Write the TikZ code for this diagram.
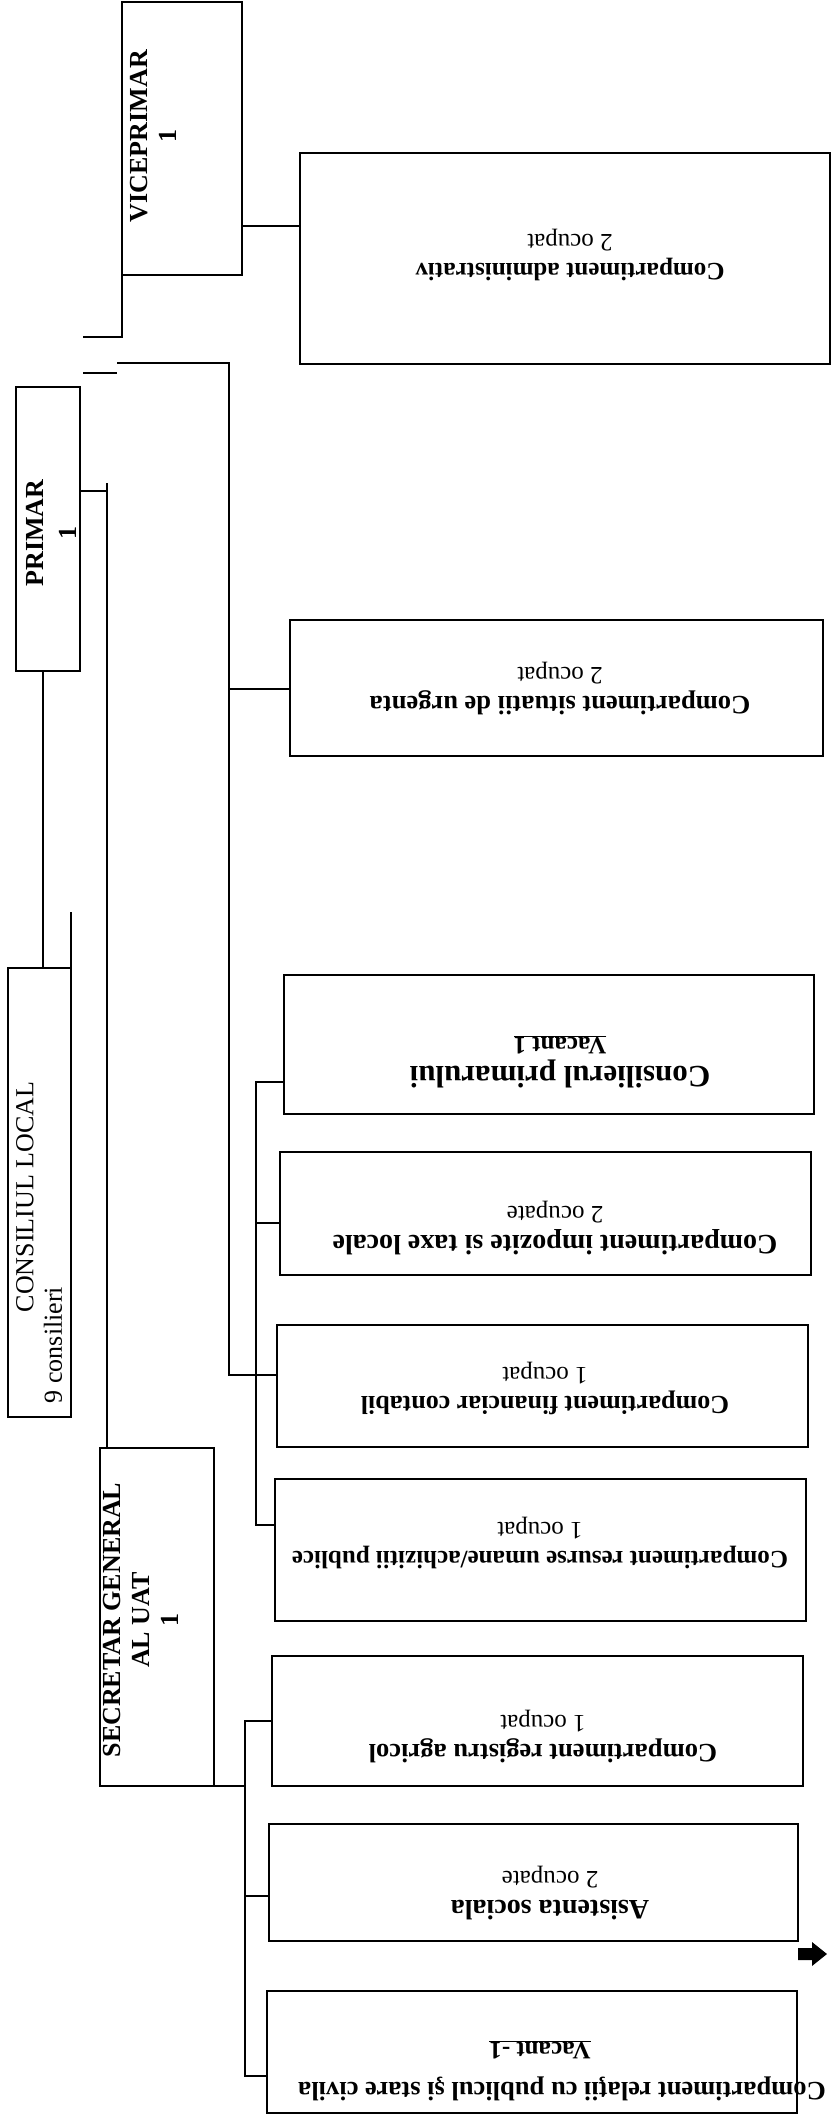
\documentclass[tikz,border=0pt]{standalone}
\usepackage{fontspec}
\setmainfont{Liberation Serif}
\newcommand\mybox[5]{\node[box, minimum width={#4-#2}, minimum height={#5-#3}] (#1) at ({(#2+#4)/2},{(#3+#5)/2}) {};}
\begin{document}
\begin{tikzpicture}[x=1pt,y=-1pt,
  box/.style={draw, line width=1.1pt, inner sep=0pt, outer sep=0pt},
  lbl/.style={font=\fontsize{25}{29}\selectfont, align=center, inner sep=0pt},
  lbl26/.style={font=\fontsize{26}{29}\selectfont, align=center, inner sep=0pt},
  conn/.style={line width=1.1pt}]
\useasboundingbox (0,0) rectangle (832,2116);
% boxes
\mybox{vice}{122}{2}{242}{275}
\mybox{primar}{16}{387}{80}{671}
\mybox{cons}{8}{968}{71}{1417}
\mybox{secr}{100}{1448}{214}{1786}
\mybox{admin}{300}{153}{830}{364}
\mybox{urg}{290}{620}{823}{756}
\mybox{consil}{284}{975}{814}{1114}
\mybox{impoz}{280}{1152}{811}{1275}
\mybox{fin}{277}{1325}{808}{1447}
\mybox{res}{275}{1479}{806}{1621}
\mybox{reg}{272}{1656}{803}{1786}
\mybox{asis}{269}{1824}{798}{1941}
\mybox{rel}{267}{1991}{797}{2113}
% left texts
\node[lbl26, rotate=90] (tvice) at (153,136) {\textbf{VICEPRIMAR}\\\textbf{1}};
\node[lbl26, rotate=90] (tprim) at (51,533) {\textbf{PRIMAR}\\[4pt]\textbf{1}};
\node[lbl26, rotate=90] (tcons1) at (25,1197) {CONSILIUL LOCAL};
\node[lbl26, rotate=90] (tcons2) at (53,1345) {9 consilieri};
\node[lbl26, rotate=90] (tsecr) at (141,1620) {\textbf{SECRETAR GENERAL}\\\textbf{AL UAT}\\\textbf{1}};
% right texts
\node[lbl, rotate=180] (tadmin) at (570,255) {\textbf{Compartiment administrativ}\\2 ocupat};
\node[lbl, rotate=180] (turg) at (560,689) {\textbf{\fontsize{26.5}{29}\selectfont Compartiment situatii de urgenta}\\2 ocupat};
\node[lbl, rotate=180] (tconsil) at (560,1062) {\textbf{\fontsize{31}{30}\selectfont Consilierul primarului}\\\underline{\textbf{Vacant 1}}};
\node[lbl, rotate=180] (timpoz) at (555,1228) {\textbf{\fontsize{28}{29}\selectfont Compartiment impozite si taxe locale}\\2 ocupate};
\node[lbl, rotate=180] (tfin) at (545,1388) {\textbf{\fontsize{26}{29}\selectfont Compartiment financiar contabil}\\1 ocupat};
\node[lbl, rotate=180] (tres) at (540,1543) {\textbf{Compartiment resurse umane/achizitii publice}\\1 ocupat};
\node[lbl, rotate=180] (treg) at (543,1737) {\textbf{\fontsize{26.5}{29}\selectfont Compartiment registru agricol}\\1 ocupat};
\node[lbl, rotate=180] (tasis) at (550,1893) {\textbf{\fontsize{28}{29}\selectfont Asistenta sociala}\\2 ocupate};
\node[lbl, rotate=180] (trel1) at (562,2089) {\textbf{\fontsize{26.5}{29}\selectfont Compartiment relaţii cu publicul şi stare civila}};
\node[lbl, rotate=180] (trel2) at (540,2050) {\underline{\textbf{Vacant -1}}};
% junction coordinates
\coordinate (jv) at (242,226);
\coordinate (jvb) at (122,337);
\coordinate (ja) at (83,337);
\coordinate (jb1) at (83,373);
\coordinate (jb2) at (117,373);
\coordinate (jtop) at (117,363);
\coordinate (bigtop) at (229,363);
\coordinate (bigbot) at (229,1375);
\coordinate (jurg) at (229,689);
\coordinate (jp) at (80,491);
\coordinate (jpl) at (107,491);
\coordinate (jplt) at (107,483);
\coordinate (jcx) at (71,912);
\coordinate (brtop) at (256,1082);
\coordinate (brmid) at (256,1223);
\coordinate (brbot) at (256,1525);
\coordinate (sgr) at (214,1786);
\coordinate (sgv) at (245,1786);
\coordinate (sgtop) at (245,1721);
\coordinate (sgmid) at (245,1896);
\coordinate (sgbot) at (245,2076);
% connectors
\draw[conn] (jv) -- (jv -| admin.west);
\draw[conn] (vice.south west) -- (jvb) -- (ja);
\draw[conn] (jb1) -- (jb2);
\draw[conn] (jtop) -- (bigtop) -- (bigbot) -- (bigbot -| fin.west);
\draw[conn] (jurg) -- (jurg -| urg.west);
\draw[conn] (jp) -- (jpl);
\draw[conn] (jplt) -- (jplt |- secr.north);
\draw[conn] (primar.south -| 43,0) -- (cons.north -| 43,0);
\draw[conn] (jcx) -- (cons.north east);
\draw[conn] (brtop -| consil.west) -- (brtop) -- (brbot) -- (brbot -| res.west);
\draw[conn] (brmid) -- (brmid -| impoz.west);
\draw[conn] (sgr) -- (sgv);
\draw[conn] (sgtop -| reg.west) -- (sgtop) -- (sgbot) -- (sgbot -| rel.west);
\draw[conn] (sgmid) -- (sgmid -| asis.west);
% small block arrow
\fill (798,1948) -- (812,1948) -- (812,1942) -- (827,1954) -- (812,1966) -- (812,1960) -- (798,1960) -- cycle;
\end{tikzpicture}
\end{document}
